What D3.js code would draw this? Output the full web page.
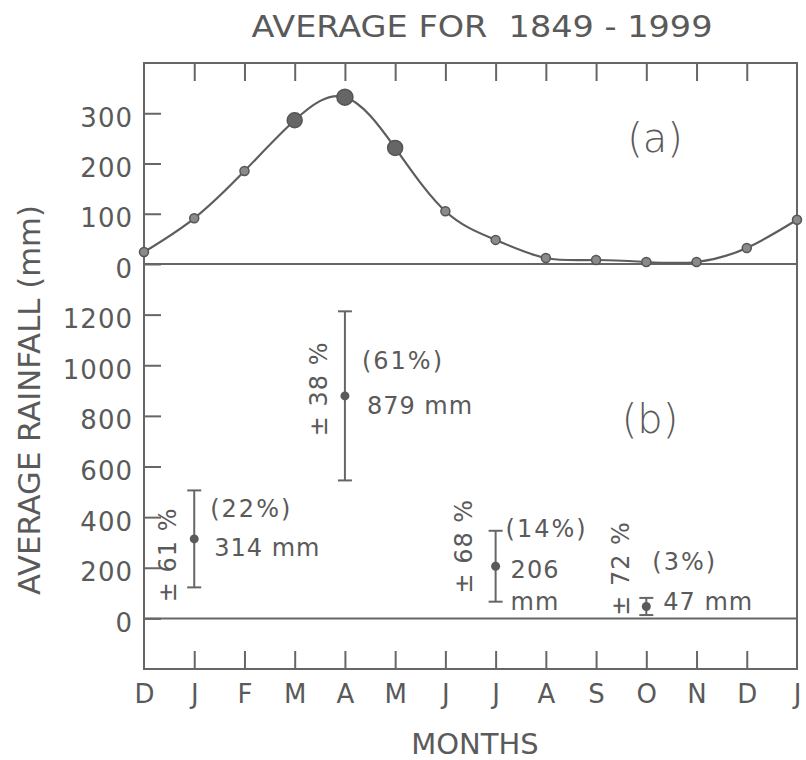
<!DOCTYPE html>
<html>
<head>
<meta charset="utf-8">
<script src="https://cdn.jsdelivr.net/npm/d3@7"></script>
<style>
  body { margin: 0; background: #fff; }
  text { font-family: "DejaVu Sans", sans-serif; fill: #5a5a5a; }
</style>
</head>
<body>
<div class="chart"></div>
<script>
// data
var months = ["D", "J", "F", "M", "A", "M", "J", "J", "A", "S", "O", "N", "D", "J"];
var monthlyRain = [24, 91, 185, 286, 332, 231, 105, 48, 12, 8, 4, 4, 32, 88];
var topTicks = [0, 100, 200, 300];
var bottomTicks = [0, 200, 400, 600, 800, 1000, 1200];

// seasonal totals (b)
var seasonMonth = [1, 4, 7, 10];          // index into months: J, A, J, O
var seasonMean = [314, 879, 206, 47];     // mm
var seasonVar = [61, 38, 68, 72];         // +- %
var seasonShare = [22, 61, 14, 3];        // % of year

var width = 806, height = 760;
var pLeft = 144, pRight = 797, pTop = 63, pBottom = 669, pMid = 264;
var ink = "#666";

var svg = d3.select("div.chart").append("svg").attr("width", width).attr("height", height);

var x = d3.scaleLinear().domain([0, 13]).range([pLeft, pRight]);
var yTop = d3.scaleLinear().domain([0, 400]).range([pMid, pTop]);
var yBot = d3.scaleLinear().domain([-200, 1400]).range([pBottom, pMid]);

// title
svg.append("text")
  .attr("x", 482).attr("y", 37)
  .attr("text-anchor", "middle")
  .attr("font-size", "31px")
  .style("white-space", "pre")
  .attr("textLength", 461).attr("lengthAdjust", "spacingAndGlyphs")
  .text("AVERAGE FOR  1849 - 1999");

// frame
svg.append("rect")
  .attr("x", pLeft).attr("y", pTop)
  .attr("width", pRight - pLeft).attr("height", pBottom - pTop)
  .attr("fill", "none").attr("stroke", ink).attr("stroke-width", 2);

// zero lines
svg.append("line").attr("x1", pLeft).attr("x2", pRight)
  .attr("y1", yTop(0)).attr("y2", yTop(0)).attr("stroke", ink).attr("stroke-width", 2);
svg.append("line").attr("x1", pLeft).attr("x2", pRight)
  .attr("y1", yBot(0)).attr("y2", yBot(0)).attr("stroke", ink).attr("stroke-width", 2);

// month ticks, top and bottom, pointing inward
var inner = d3.range(1, 13);
var tTop = svg.append("g").attr("transform", "translate(0," + pTop + ")")
  .call(d3.axisTop(x).tickValues(inner).tickSizeInner(-18).tickSizeOuter(0).tickFormat(""));
var tBot = svg.append("g").attr("transform", "translate(0," + pBottom + ")")
  .call(d3.axisBottom(x).tickValues(inner).tickSizeInner(-18).tickSizeOuter(0).tickFormat(""));

// month labels
var mLab = svg.append("g").attr("transform", "translate(0," + pBottom + ")")
  .call(d3.axisBottom(x).tickValues(d3.range(0, 14)).tickSize(0).tickPadding(16)
    .tickFormat(function(i) { return months[i]; }));
mLab.selectAll("text").attr("font-size", "26px").attr("font-family", null);

// y axes, ticks inward
var aTop = svg.append("g").attr("transform", "translate(" + pLeft + ",0)")
  .call(d3.axisLeft(yTop).tickValues(topTicks).tickSizeInner(-17).tickSizeOuter(0)
    .tickPadding(11).tickFormat(d3.format("d")));
var aBot = svg.append("g").attr("transform", "translate(" + pLeft + ",0)")
  .call(d3.axisLeft(yBot).tickValues(bottomTicks).tickSizeInner(-17).tickSizeOuter(0)
    .tickPadding(11).tickFormat(d3.format("d")));

[tTop, tBot, mLab, aTop, aBot].forEach(function(a) {
  a.select(".domain").remove();
  a.selectAll("line").attr("stroke", ink).attr("stroke-width", 2);
});
[aTop, aBot].forEach(function(a) {
  a.selectAll("text").attr("font-size", "26px").attr("font-family", null)
    .attr("letter-spacing", "1px").attr("dy", "0.5em").attr("fill", null);
});
mLab.selectAll("text").attr("fill", null);

// axis titles
svg.append("text")
  .attr("transform", "translate(40,400) rotate(-90)")
  .attr("text-anchor", "middle")
  .attr("font-size", "31px")
  .attr("textLength", 390).attr("lengthAdjust", "spacingAndGlyphs")
  .text("AVERAGE RAINFALL (mm)");

svg.append("text")
  .attr("x", 475).attr("y", 754)
  .attr("text-anchor", "middle")
  .attr("font-size", "29px")
  .text("MONTHS");

// (a) monthly curve
var line = d3.line()
  .x(function(d, i) { return x(i); })
  .y(function(d) { return yTop(d); })
  .curve(d3.curveNatural);

svg.append("path")
  .datum(monthlyRain)
  .attr("d", line)
  .attr("fill", "none")
  .attr("stroke", "#5d5d5d")
  .attr("stroke-width", 2.2);

svg.selectAll(".pt")
  .data(monthlyRain)
  .enter()
  .append("circle")
  .attr("class", "pt")
  .attr("cx", function(d, i) { return x(i); })
  .attr("cy", function(d) { return yTop(d); })
  .attr("r", function(d) { return d > 300 ? 8 : d > 200 ? 7.5 : 4.5; })
  .attr("fill", function(d) { return d > 200 ? "#666" : "#8a8a8a"; })
  .attr("stroke", "#555")
  .attr("stroke-width", 1.5);

svg.append("text")
  .attr("x", 655).attr("y", 152)
  .attr("text-anchor", "middle")
  .attr("font-size", "40px").attr("font-weight", 200)
  .text("(a)");

// (b) seasonal totals with error bars
svg.append("text")
  .attr("x", 650).attr("y", 433)
  .attr("text-anchor", "middle")
  .attr("font-size", "40px").attr("font-weight", 200)
  .text("(b)");

// label offsets (px) relative to each bar's mean point
var labelLayout = [
  { rot: [-27, 16], share: [16, -22], mm: [[20, 17, "314 mm"]] },
  { rot: [-26, -7], share: [17, -27], mm: [[22, 18, "879 mm"]] },
  { rot: [-32, -20], share: [10, -29], mm: [[15, 12, "206"], [15, 44, "mm"]] },
  { rot: [-26, -38], share: [6, -36], mm: [[17, 4, "47 mm"]] }
];

var bars = svg.selectAll(".bar")
  .data(seasonMean.map(function(m, i) {
    return { m: m, idx: seasonMonth[i], v: seasonVar[i], s: seasonShare[i], lay: labelLayout[i] };
  }))
  .enter()
  .append("g")
  .attr("class", "bar")
  .attr("transform", function(d) { return "translate(" + x(d.idx) + "," + yBot(d.m) + ")"; });

bars.append("line")
  .attr("x1", 0).attr("x2", 0)
  .attr("y1", function(d) { return yBot(d.m * (1 + d.v / 100)) - yBot(d.m); })
  .attr("y2", function(d) { return yBot(d.m * (1 - d.v / 100)) - yBot(d.m); })
  .attr("stroke", ink).attr("stroke-width", 2);

[1, -1].forEach(function(sg) {
  bars.append("line")
    .attr("x1", -7).attr("x2", 7)
    .attr("y1", function(d) { return yBot(d.m * (1 + sg * d.v / 100)) - yBot(d.m); })
    .attr("y2", function(d) { return yBot(d.m * (1 + sg * d.v / 100)) - yBot(d.m); })
    .attr("stroke", ink).attr("stroke-width", 2);
});

bars.append("circle")
  .attr("r", 4.5)
  .attr("fill", "#5a5a5a");

bars.append("text")
  .attr("transform", function(d) { return "translate(" + d.lay.rot[0] + "," + d.lay.rot[1] + ") rotate(-90)"; })
  .attr("text-anchor", "middle")
  .attr("dy", "0.35em")
  .attr("font-size", "24px")
  .attr("letter-spacing", "1px")
  .text(function(d) { return "\u00b1 " + d.v + " %"; });

bars.append("text")
  .attr("x", function(d) { return d.lay.share[0]; })
  .attr("y", function(d) { return d.lay.share[1]; })
  .attr("font-size", "24px")
  .attr("letter-spacing", "2px")
  .text(function(d) { return "(" + d.s + "%)"; });

bars.each(function(d) {
  var g = d3.select(this);
  d.lay.mm.forEach(function(t) {
    g.append("text")
      .attr("x", t[0]).attr("y", t[1])
      .attr("font-size", "24px")
      .attr("letter-spacing", "1px")
      .text(t[2]);
  });
});
</script>
</body>
</html>
